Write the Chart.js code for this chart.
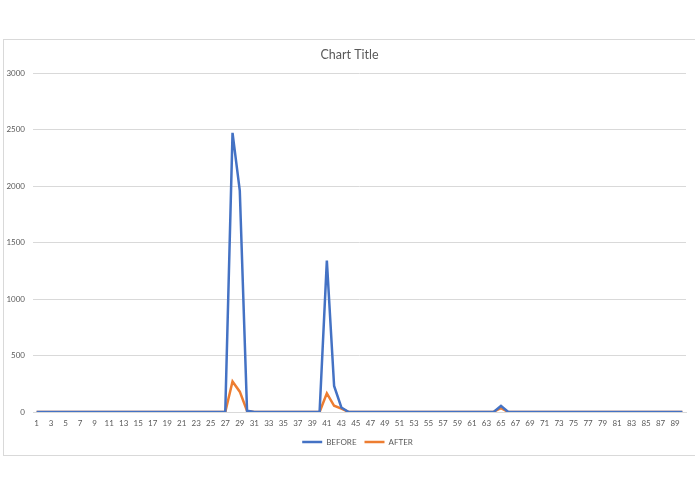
<!DOCTYPE html>
<html>
<head>
<meta charset="utf-8">
<script src="https://cdn.jsdelivr.net/npm/chart.js@4.4.0/dist/chart.umd.min.js"></script>
<style>
  html, body { margin: 0; padding: 0; background: #ffffff; }
  #wrap { position: relative; width: 695px; height: 494px; }
  #frame { position: absolute; left: 3px; top: 39px; width: 700px; height: 417px; border: 1px solid #d9d9d9; box-sizing: border-box; }
  canvas { position: absolute; left: 0; top: 0; }
</style>
</head>
<body>
<div id="wrap">
  <div id="frame"></div>
  <canvas id="c" width="695" height="494"></canvas>
</div>
<script>
const categories = [
  1,2,3,4,5,6,7,8,9,10,11,12,13,14,15,16,17,18,19,20,
  21,22,23,24,25,26,27,28,29,30,31,32,33,34,35,36,37,38,39,40,
  41,42,43,44,45,46,47,48,49,50,51,52,53,54,55,56,57,58,59,60,
  61,62,63,64,65,66,67,68,69,70,71,72,73,74,75,76,77,78,79,80,
  81,82,83,84,85,86,87,88,89,90
];
const beforeValues = [
  0,0,0,0,0,0,0,0,0,0, 0,0,0,0,0,0,0,0,0,0,
  0,0,0,0,0,0,0,2470,1960,12, 0,0,0,0,0,0,0,0,0,0,
  1340,230,40,0,0,0,0,0,0,0, 0,0,0,0,0,0,0,0,0,0,
  0,0,0,0,55,0,0,0,0,0, 0,0,0,0,0,0,0,0,0,0,
  0,0,0,0,0,0,0,0,0,0
];
const afterValues = [
  0,0,0,0,0,0,0,0,0,0, 0,0,0,0,0,0,0,0,0,0,
  0,0,0,0,0,0,0,270,180,10, 0,0,0,0,0,0,0,0,0,0,
  165,55,30,0,0,0,0,0,0,0, 0,0,0,0,0,0,0,0,0,0,
  0,0,0,3,35,0,0,0,0,0, 0,0,0,0,0,0,0,0,0,0,
  0,0,0,0,0,0,0,0,0,0
];
const seriesNames = ['BEFORE', 'AFTER'];
const titleText = 'Chart Title';

const FONT = 'Lato, Carlito, Calibri, "Liberation Sans", sans-serif';
const TXT = '#595959';

const shiftBlocks = {
  id: 'shiftBlocks',
  afterLayout(chart) {
    if (chart.legend) { chart.legend.left += 13; chart.legend.right += 13; }
    if (chart.titleBlock) { chart.titleBlock.left += 5; chart.titleBlock.right += 5; }
  }
};

new Chart(document.getElementById('c'), {
  type: 'line',
  data: {
    labels: categories,
    datasets: [
      { label: seriesNames[0], data: beforeValues, borderColor: '#4472C4', backgroundColor: '#4472C4',
        borderWidth: 2.5, pointRadius: 0, tension: 0, fill: false },
      { label: seriesNames[1], data: afterValues, borderColor: '#ED7D31', backgroundColor: '#ED7D31',
        borderWidth: 2.5, pointRadius: 0, tension: 0, fill: false }
    ]
  },
  plugins: [shiftBlocks],
  options: {
    responsive: false,
    animation: false,
    devicePixelRatio: 1,
    layout: { padding: { left: 3, right: 9, top: 47, bottom: 38 } },
    plugins: {
      title: {
        display: true, text: titleText, color: TXT,
        font: { family: FONT, size: 12.5, weight: 'normal' },
        padding: { top: 0, bottom: 11 }
      },
      legend: {
        position: 'bottom',
        labels: {
          color: TXT, font: { family: FONT, size: 8 },
          usePointStyle: true, pointStyle: 'line', pointStyleWidth: 20,
          boxHeight: 8, padding: 8
        }
      },
      tooltip: { enabled: false }
    },
    scales: {
      x: {
        type: 'category',
        offset: true,
        grid: { display: false, drawTicks: false },
        border: { display: true, color: '#d9d9d9' },
        ticks: {
          color: TXT, font: { family: FONT, size: 8 },
          autoSkip: false, maxRotation: 0, minRotation: 0, padding: 7,
          callback: function (val, index) { return index % 2 === 0 ? this.getLabelForValue(val) : ''; }
        },
        afterFit: function (s) { s.height = 18; }
      },
      y: {
        min: 0, max: 3000,
        grid: { color: '#d9d9d9', drawTicks: false },
        border: { display: false },
        ticks: {
          stepSize: 500, color: TXT, font: { family: FONT, size: 8 }, padding: 8,
          callback: function (v) { return String(v); }
        },
        afterFit: function (s) { s.width = 30; }
      }
    }
  }
});
</script>
</body>
</html>
